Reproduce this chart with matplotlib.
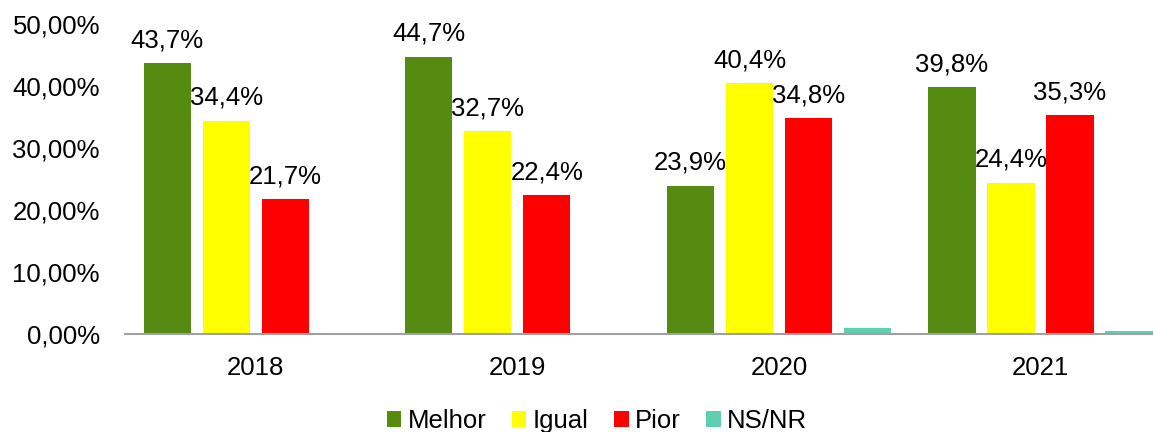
from matplotlib import pyplot as plt
import numpy as np

plt.rcParams['font.family'] = ['Liberation Sans', 'DejaVu Sans']

years = ['2018', '2019', '2020', '2021']
series = ['Melhor', 'Igual', 'Pior', 'NS/NR']
melhor = [43.7, 44.7, 23.9, 39.8]
igual = [34.4, 32.7, 40.4, 24.4]
pior = [21.7, 22.4, 34.8, 35.3]
nsnr = [0.0, 0.2, 0.9, 0.4]
colors = ['#558B10', '#FFFF00', '#FF0000', '#5FCFB1']

fig = plt.figure(figsize=(11.53, 4.32), dpi=100)
ax = fig.add_axes([0.1084, 0.2269, 0.8916, 0.7176])

x = np.arange(len(years))
step = 0.2255
width = 0.18
fs = 18.5
values = [melhor, igual, pior, nsnr]
for i, (name, vals, col) in enumerate(zip(series, values, colors)):
    pos = x + (i - 1.5) * step
    ax.bar(pos, vals, width, color=col, label=name)
    # only the first three series get value labels
    if i < 3:
        for px, v in zip(pos, vals):
            ax.annotate(f'{v:.1f}%'.replace('.', ','), (px, v),
                        xytext=(0, 16.5), textcoords='offset points',
                        ha='center', va='center', fontsize=fs)

ax.set_xlim(-0.5, 3.43)
ax.set_ylim(0, 50)
ax.set_yticks(np.arange(0, 51, 10))
ax.set_yticklabels([f'{t:.2f}%'.replace('.', ',') for t in range(0, 51, 10)], fontsize=fs)
ax.set_xticks(x)
ax.set_xticklabels(years, fontsize=fs)
ax.tick_params(length=0)
ax.tick_params(axis='x', pad=16)
ax.tick_params(axis='y', pad=18)
for s in ['top', 'right', 'left']:
    ax.spines[s].set_visible(False)
ax.spines['bottom'].set_color('#A0A0A0')
ax.spines['bottom'].set_linewidth(1.5)

fig.legend(loc='center', bbox_to_anchor=(0.518, 0.025), ncol=4, frameon=False,
           fontsize=fs, handlelength=0.55, handleheight=0.55, handletextpad=0.25,
           columnspacing=1.0)

fig.savefig('out.png', dpi=100)
